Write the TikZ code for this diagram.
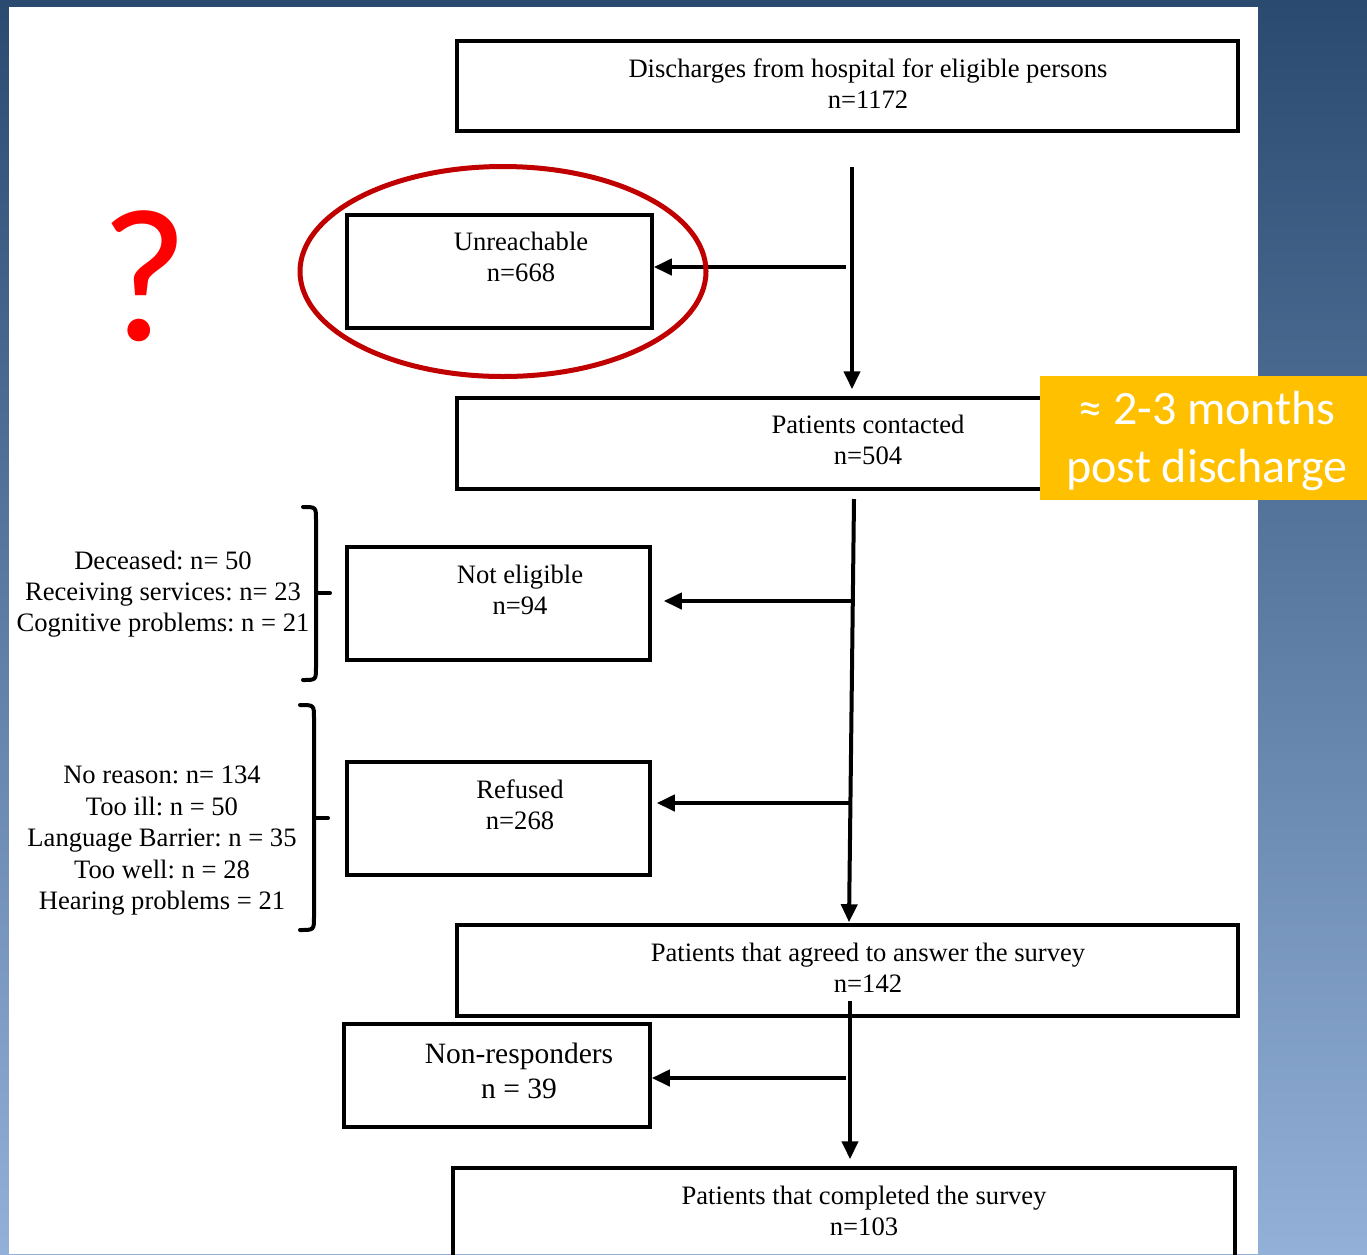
\documentclass[tikz,border=0pt]{standalone}
\usepackage{fontspec}
\setmainfont{Liberation Serif}
\newfontfamily\calib{Carlito}
\usetikzlibrary{arrows.meta,shapes.geometric}
\frenchspacing

\definecolor{bgtop}{RGB}{42,74,112}
\definecolor{bgmid}{RGB}{60,99,148}
\definecolor{bgbot}{RGB}{146,176,216}
\definecolor{ringred}{RGB}{192,0,0}
\definecolor{amber}{RGB}{255,192,0}

\tikzset{
  box/.style={draw=black, line width=3.5pt, inner sep=0pt, fill=none},
  txt/.style={align=center, inner sep=0pt, font=\fontsize{26.6}{31}\selectfont},
  arr/.style={line width=4pt, -{Triangle[length=18pt,width=16pt]}},
  brk/.style={line width=4pt, line cap=round},
}

\begin{document}
\begin{tikzpicture}[x=1pt,y=-1pt]
\useasboundingbox (0,0) rectangle (1367,1254);

% slide background and white sheet
\shade[top color=bgtop, middle color=bgmid, bottom color=bgbot] (0,0) rectangle (1367,1254);
\fill[white] (9,7) rectangle (1258,1254);

% flow boxes
\node[box, minimum width=781pt, minimum height=90pt] (dis) at (847.5,86) {};
\node[txt] (dis-t) at (868,83.5) {Discharges from hospital for eligible persons\\n=1172};

\node[box, minimum width=305pt, minimum height=113pt] (unr) at (499.5,271.5) {};
\node[txt] (unr-t) at (521,256.5) {Unreachable\\n=668};

\node[box, minimum width=781pt, minimum height=91pt] (con) at (847.5,443.5) {};
\node[txt] (con-t) at (868,439.5) {Patients contacted\\n=504};

\node[box, minimum width=303pt, minimum height=113pt] (nel) at (498.5,603.5) {};
\node[txt] (nel-t) at (520,589.5) {Not eligible\\n=94};

\node[box, minimum width=303pt, minimum height=113pt] (ref) at (498.5,818.5) {};
\node[txt] (ref-t) at (520,804.5) {Refused\\n=268};

\node[box, minimum width=781pt, minimum height=91pt] (agr) at (847.5,970.5) {};
\node[txt] (agr-t) at (868,968) {Patients that agreed to answer the survey\\n=142};

\node[box, minimum width=306pt, minimum height=103pt] (nrs) at (497,1075.5) {};
\node[txt, font=\fontsize{29.5}{35}\selectfont] (nrs-t) at (519,1070.5) {Non-responders\\n = 39};

\node[box, minimum width=782pt, minimum height=94pt] (cmp) at (844,1215) {};
\node[txt] (cmp-t) at (864,1210.5) {Patients that completed the survey\\n=103};

% main trunk and side branches
\coordinate (s1) at (852,167);
\draw[arr, shorten >=7pt] (s1) -- (s1 |- con.north);
\coordinate (j1) at (846,267);
\draw[arr] (j1) -- (j1 -| unr.east);

\coordinate (s2) at (854,499);
\draw[arr, shorten >=1pt] (s2) -- ([xshift=1.5pt]agr.north);
\coordinate (j2) at (853,601);
\draw[arr, shorten >=12pt] (j2) -- (j2 -| nel.east);
\coordinate (j3) at (851,803);
\draw[arr, shorten >=5pt] (j3) -- (j3 -| ref.east);

\coordinate (s3) at (850,1001);
\draw[arr, shorten >=7pt] (s3) -- (s3 |- cmp.north);
\coordinate (j4) at (846,1078);
\draw[arr] (j4) -- (j4 -| nrs.east);

% reasons with brackets
\node[txt] (why-ne) at (163,594) {Deceased: n= 50\\Receiving services: n= 23\\Cognitive problems: n = 21};
\draw[brk] (303,507) .. controls (316,507) .. (316,520) -- (316,667) .. controls (316,680) .. (303,680);
\draw[brk] (316,593) -- (330,593);

\node[txt, font=\fontsize{26.6}{31.5}\selectfont] (why-rf) at (162,841) {No reason: n= 134\\Too ill: n = 50\\Language Barrier: n = 35\\Too well: n = 28\\Hearing problems = 21};
\draw[brk] (300,705) .. controls (314,705) .. (314,718) -- (314,917) .. controls (314,930) .. (300,930);
\draw[brk] (314,818) -- (328,818);

% highlight ring and question mark
\node[ellipse, draw=ringred, line width=5pt, minimum width=406pt, minimum height=210pt, inner sep=0pt] (ring) at (503,271.5) {};
\node[text={rgb,255:red,255;green,0;blue,0}, font=\calib\fontsize{190}{190}\selectfont, inner sep=0pt] (qm) at (145,276) {?};

% time note
\node[fill=amber, minimum width=327pt, minimum height=124pt, inner sep=0pt] (note) at (1203.5,438) {};
\node[align=center, inner sep=0pt, text=white, font=\calib\fontsize{48}{58}\selectfont] (note-t) at (1207,441) {≈ 2-3 months\\post discharge};
\end{tikzpicture}
\end{document}
